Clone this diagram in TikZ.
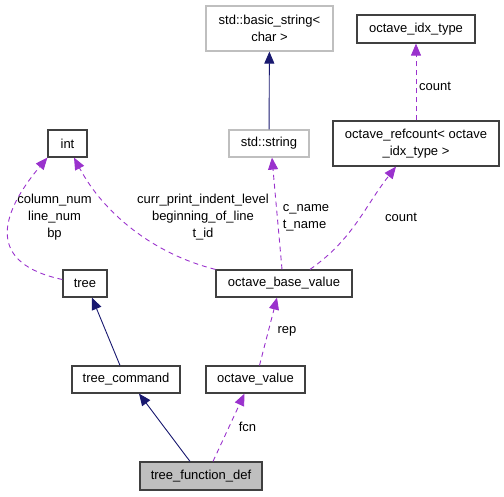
\documentclass[tikz,border=0pt]{standalone}
\usepackage{fontspec}
\setmainfont{Liberation Sans}
\usetikzlibrary{arrows.meta,calc}
\definecolor{navy}{HTML}{191970}
\definecolor{orchid}{HTML}{9A32CD}
\definecolor{boxline}{HTML}{404040}
\definecolor{grayline}{HTML}{BFBFBF}
\begin{document}
\begin{tikzpicture}[x=1pt,y=-1pt,
  font=\fontsize{13}{17}\selectfont,
  box/.style={draw=boxline, line width=1.2pt, fill=white, inner sep=0pt, align=center},
  gbox/.style={draw=grayline, line width=1.2pt, fill=white, inner sep=0pt, align=center},
  inh/.style={draw=navy, line width=0.9pt, -{Triangle[width=10pt,length=12pt]}},
  use/.style={draw=orchid, line width=0.9pt, dash pattern=on 5pt off 4pt, -{Triangle[width=10pt,length=12pt]}},
  lbl/.style={inner sep=0pt, align=center, text=black}]
\useasboundingbox (0,0) rectangle (504,496);
\node[gbox, minimum width=127pt, minimum height=45pt] (bstr) at (269.5,28.5) {std::basic\_string<\\char >};
\node[box, minimum width=118pt, minimum height=28pt] (idx) at (416,29) {octave\_idx\_type};
\node[box, minimum width=39pt, minimum height=27pt] (int) at (67.5,143.5) {int};
\node[gbox, minimum width=80pt, minimum height=27pt] (str) at (269,143.5) {std::string};
\node[box, minimum width=166pt, minimum height=45pt] (ref) at (416,143.5) {octave\_refcount< octave\\\_idx\_type >};
\node[box, minimum width=44pt, minimum height=27pt] (tree) at (85,283.5) {tree};
\node[box, minimum width=136pt, minimum height=27pt] (obv) at (284,283.5) {octave\_base\_value};
\node[box, minimum width=108pt, minimum height=27pt] (tc) at (126,379.5) {tree\_command};
\node[box, minimum width=99pt, minimum height=27pt] (ov) at (255.5,379.5) {octave\_value};
\node[box, fill=grayline, minimum width=122pt, minimum height=28pt] (tfd) at (201,476) {tree\_function\_def};

\draw[inh] (str) -- (bstr);
\draw[inh] ($(tc.north)+(-6,0)$) -- ($(tree.south)+(7,0)$);
\draw[inh] ($(tfd.north)+(-11,0)$) -- ($(tc.south)+(13,0)$);

\draw[use] (ref.north) -- (idx.south);
\draw[use] ($(tree.west)+(0,-4)$) to[out=168,in=230,looseness=1.6] (int.south west);
\draw[use] (obv.north west) to[out=166,in=-62,looseness=0.9] ($(int.south)+(6.5,0)$);
\draw[use] ($(obv.north)+(-2,0)$) to[out=95,in=-85] ($(str.south)+(3,0)$);
\draw[use] ($(obv.north)+(26,0)$) to[out=35,in=232] ($(ref.south)+(-20,0)$);
\draw[use] ($(ov.north)+(4,0)$) -- ($(obv.south)+(-7,0)$);
\draw[use] ($(tfd.north)+(12,0)$) -- ($(ov.south)+(-11,0)$);

\node[lbl] (l1) at (435,86) {count};
\node[lbl] (l2) at (54.5,217) {column\_num\\line\_num\\bp};
\node[lbl] (l3) at (203,217) {curr\_print\_indent\_level\\beginning\_of\_line\\t\_id};
\node[lbl, align=left] (l4) at (306,218) {c\_name\\t\_name};
\node[lbl] (l5) at (401,217) {count};
\node[lbl] (l6) at (287,331) {rep};
\node[lbl] (l7) at (247.5,427) {fcn};
\end{tikzpicture}
\end{document}
